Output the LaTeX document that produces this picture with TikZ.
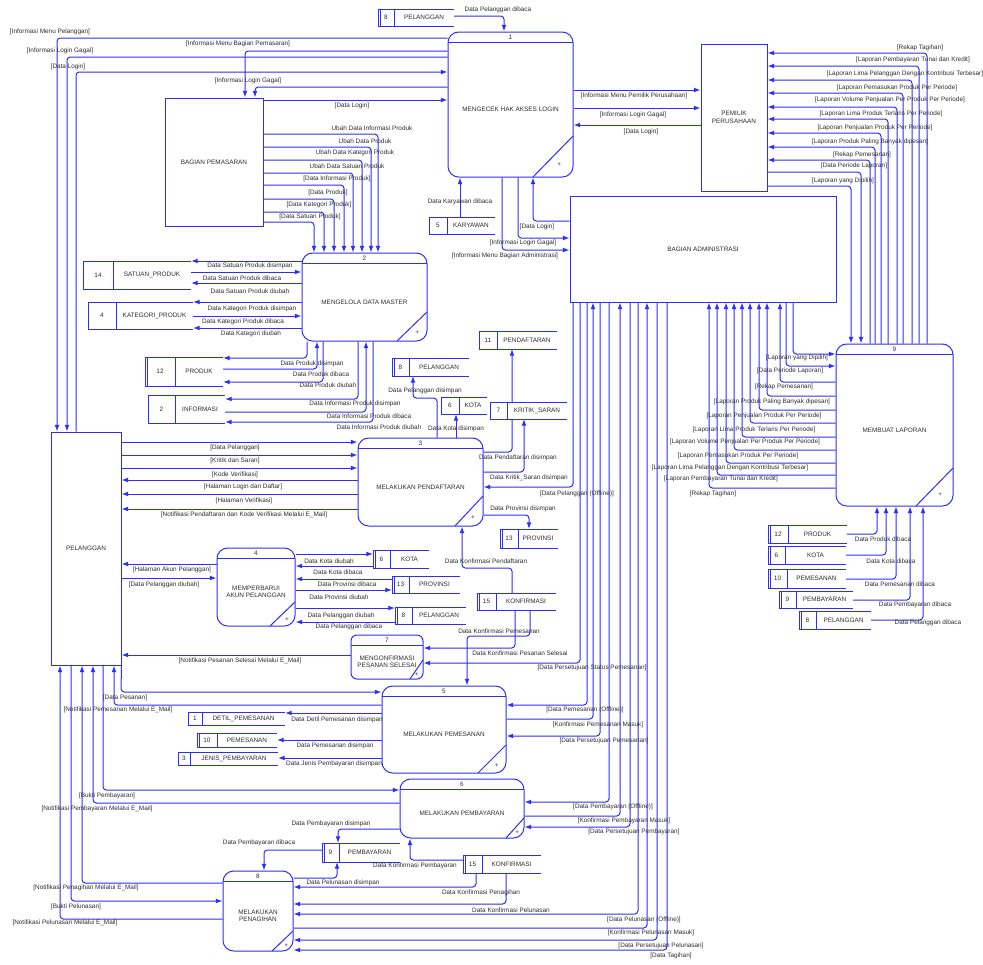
\documentclass[tikz,border=0pt]{standalone}
\usepackage{fontspec}
\setmainfont{Liberation Sans}
\usetikzlibrary{arrows.meta}
\definecolor{dfd}{RGB}{45,45,255}
\definecolor{txtc}{RGB}{45,45,45}
\pgfdeclarelayer{bg}
\pgfdeclarelayer{paper}
\pgfsetlayers{paper,bg,main}
\newcounter{labc}
\newcommand\lbfont{\fontsize{4.8pt}{5.6pt}\selectfont}
\tikzset{
  shapeline/.style={draw=dfd, line width=0.75pt},
  ent/.style={draw=dfd, line width=0.75pt, fill=white, inner sep=0pt, font=\lbfont, text=txtc, align=center},
  procbox/.style={draw=dfd, line width=0.75pt, fill=white, inner sep=0pt, rounded corners=\procrad},
  ptxt/.style={font=\lbfont, text=txtc, inner sep=0pt, align=center},
  stxt/.style={font=\lbfont, text=txtc, inner sep=0pt},
  storebox/.style={fill=white, inner sep=0pt, outer sep=0pt, draw=none},
  lbl/.style={font=\lbfont, text=txtc, inner sep=0pt},
  flow/.style={draw=dfd, line width=0.75pt, rounded corners=2.5pt, -{Latex[length=5pt,width=3.6pt]}},
}
\def\procrad{8pt}
% name, x1, y1, x2, y2, number, text, diag a, diag b
\newcommand\proc[9]{%
  \node[procbox, minimum width={(#4-#2)*0.75pt}, minimum height={(#5-#3)*0.75pt}] (#1) at ({(#2+#4)/2},{(#3+#5)/2}) {};
  \draw[shapeline] (#2,#3+10) -- (#4,#3+10);
  \node[ptxt] (#1-n) at ({(#2+#4)/2},#3+5) {#6};
  \node[ptxt] (#1-t) at ({(#2+#4)/2},{(#3+#5+10)/2}) {#7};
  \draw[shapeline] (#4,#5-#8) -- (#4-#9,#5);
  \node[ptxt] (#1-p) at ({#4-#8/3},{#5-#8/3+1.5}) {+};
}
% name, x1, y1, x2, y2, xdiv, number, text, double
\newcommand\store[9]{%
  \node[storebox, minimum width={(#4-#2)*0.75pt}, minimum height={(#5-#3)*0.75pt}] (#1) at ({(#2+#4)/2},{(#3+#5)/2}) {};
  \draw[shapeline] (#4,#3) -- (#2,#3) -- (#2,#5) -- (#4,#5);
  \draw[shapeline] (#6,#3) -- (#6,#5);
  \ifnum#9=1 \draw[shapeline] (#2+2.2,#3) -- (#2+2.2,#5);\fi
  \node[stxt] (#1-n) at ({(#2+#6)/2},{(#3+#5)/2}) {#7};
  \node[stxt] (#1-t) at ({(#6+#4)/2},{(#3+#5)/2}) {#8};
}
\newcommand\lab[3]{\stepcounter{labc}\node[lbl] (lab-\arabic{labc}) at (#1,#2) {#3};}
\begin{document}
\begin{tikzpicture}[x=0.75pt,y=-0.75pt]
\begin{pgfonlayer}{paper}
\fill[white] (0,0) rectangle (983,965);
\end{pgfonlayer}
\useasboundingbox (0,0) rectangle (983,965);
% ---------- external entities ----------
\node[ent, minimum width={70*0.75pt}, minimum height={233*0.75pt}] (pl) at (86,548.5) {PELANGGAN};
\node[ent, minimum width={98*0.75pt}, minimum height={128*0.75pt}] (pp) at (214,162) {BAGIAN PEMASARAN};
\node[ent, minimum width={66*0.75pt}, minimum height={147*0.75pt}] (pk) at (734,117.5) {PEMILIK\\PERUSAHAAN};
\node[ent, minimum width={266*0.75pt}, minimum height={106*0.75pt}] (ba) at (703,249) {BAGIAN ADMINISTRASI};
% ---------- processes ----------
\proc{p1}{448}{32}{573}{177}{1}{MENGECEK HAK AKSES LOGIN}{41}{40}
\proc{p2}{302}{253}{427}{341}{2}{MENGELOLA DATA MASTER}{29}{30}
\proc{p3}{358}{438}{483}{526}{3}{MELAKUKAN PENDAFTARAN}{30}{28}
\proc{p4}{217}{548}{295}{626}{4}{MEMPERBARUI\\AKUN PELANGGAN}{24}{25}
\proc{p5}{382}{686}{506}{773}{5}{MELAKUKAN PEMESANAN}{28}{28}
\proc{p6}{400}{779}{524}{838}{6}{MELAKUKAN PEMBAYARAN}{20}{18}
\proc{p8}{223}{871}{293}{951}{8}{MELAKUKAN\\PENAGIHAN}{20}{21}
\proc{p9}{836}{344}{953}{506}{9}{MEMBUAT LAPORAN}{38}{37}
\def\procrad{4.5pt}
\proc{p7}{351}{635}{423}{679}{7}{MENGONFIRMASI\\PESANAN SELESAI}{19}{13}
% ---------- data stores ----------
\store{s8a}{378}{9}{454}{26}{394}{8}{PELANGGAN}{1}
\store{s5}{429}{217}{495}{234}{447}{5}{KARYAWAN}{0}
\store{s14}{83}{261}{191}{289}{113}{14}{SATUAN\_PRODUK}{0}
\store{s4}{88}{302}{193}{329}{116}{4}{KATEGORI\_PRODUK}{0}
\store{s12a}{145}{357}{223}{386}{175}{12}{PRODUK}{1}
\store{s2}{148}{395}{225}{423}{175}{2}{INFORMASI}{0}
\store{s8b}{392}{358}{469}{376}{409}{8}{PELANGGAN}{1}
\store{s6a}{441}{397}{487}{414}{459}{6}{KOTA}{0}
\store{s11}{479}{331}{557}{349}{497}{11}{PENDAFTARAN}{0}
\store{s7}{490}{402}{567}{419}{507}{7}{KRITIK\_SARAN}{0}
\store{s13a}{500}{529}{558}{548}{518}{13}{PROVINSI}{1}
\store{s6b}{373}{550}{429}{568}{390}{6}{KOTA}{1}
\store{s13b}{392}{576}{460}{593}{409}{13}{PROVINSI}{1}
\store{s8c}{395}{607}{466}{624}{412}{8}{PELANGGAN}{1}
\store{s15a}{477}{593}{556}{610}{496}{15}{KONFIRMASI}{1}
\store{s1}{188}{712}{285}{725}{202}{1}{DETIL\_PEMESANAN}{0}
\store{s10a}{197}{733}{277}{747}{217}{10}{PEMESANAN}{1}
\store{s3}{178}{752}{278}{765}{190}{3}{JENIS\_PEMBAYARAN}{0}
\store{s9a}{322}{843}{400}{862}{339}{9}{PEMBAYARAN}{1}
\store{s15b}{463}{855}{541}{873}{482}{15}{KONFIRMASI}{1}
\store{s12b}{768}{525}{847}{543}{788}{12}{PRODUK}{1}
\store{s6c}{768}{546}{846}{564}{785}{6}{KOTA}{1}
\store{s10b}{768}{569}{846}{588}{787}{10}{PEMESANAN}{1}
\store{s9b}{779}{591}{853}{608}{796}{9}{PEMBAYARAN}{1}
\store{s8d}{799}{611}{871}{629}{816}{8}{PELANGGAN}{1}
% ---------- connectors ----------
\begin{pgfonlayer}{bg}
% process 1
\draw[flow] (s8a.east |- 0,16) -- (504,16) -- (p1.north -| 504,0);
\draw[flow] (p1.west |- 0,38) -- (57,38) -- (pl.north -| 57,0);
\draw[flow] (p1.west |- 0,51) -- (245,51) -- (pp.north -| 245,0);
\draw[flow] (p1.west |- 0,57) -- (67,57) -- (pl.north -| 67,0);
\draw[flow] (pl.north -| 76,0) -- (76,72) -- (p1.west |- 0,72);
\draw[flow] (p1.west |- 0,87) -- (255,87) -- (pp.north -| 255,0);
\draw[flow] (pp.east |- 0,100) -- (p1.west |- 0,100);
\draw[flow] (p1.east |- 0,90) -- (pk.west |- 0,90);
\draw[flow] (p1.east |- 0,108) -- (pk.west |- 0,108);
\draw[flow] (pk.west |- 0,125) -- (p1.east |- 0,125);
\draw[flow] (s5.north -| 460,0) -- (p1.south -| 460,0);
\draw[flow] (p1.south -| 518,0) -- (518,238) -- (ba.west |- 0,238);
\draw[flow] (p1.south -| 502,0) -- (502,250) -- (ba.west |- 0,250);
\draw[flow] (ba.west |- 0,221) -- (533,221) -- (p1.south -| 533,0);
% pemilik <-> process 9
\foreach \x/\y in {927/53,919/66,912/80,903/93,897/107,888/119,881/133,875/147,870/160}
  \draw[flow] (p9.north -| \x,0) -- (\x,\y) -- (pk.east |- 0,\y);
\foreach \x/\y in {861/172,851/186}
  \draw[flow] (pk.east |- 0,\y) -- (\x,\y) -- (p9.north -| \x,0);
% administrasi <-> process 9
\foreach \x/\y in {793/354,786/366}
  \draw[flow] (ba.south -| \x,0) -- (\x,\y) -- (p9.west |- 0,\y);
\foreach \x/\y in {780/382,767/396,759/410,750/423,742/437,734/450,726/463,717/475,709/488}
  \draw[flow] (p9.west |- 0,\y) -- (\x,\y) -- (ba.south -| \x,0);
% process 9 stores
\draw[flow] (s12b.east |- 0,534) -- (877,534) -- (p9.south -| 877,0);
\draw[flow] (s6c.east |- 0,555) -- (886,555) -- (p9.south -| 886,0);
\draw[flow] (s10b.east |- 0,579) -- (896,579) -- (p9.south -| 896,0);
\draw[flow] (s9b.east |- 0,600) -- (910,600) -- (p9.south -| 910,0);
\draw[flow] (s8d.east |- 0,620) -- (923,620) -- (p9.south -| 923,0);
% process 2
\foreach \x/\y in {378/134,371/147,362/160,353/173,344/185,334/199,324/212,314/222}
  \draw[flow] (pp.east |- 0,\y) -- (\x,\y) -- (p2.north -| \x,0);
\draw[flow] (p2.west |- 0,261) -- (s14.east |- 0,261);
\draw[flow] (s14.east |- 0,272) -- (p2.west |- 0,272);
\draw[flow] (p2.west |- 0,283) -- (s14.east |- 0,283);
\draw[flow] (p2.west |- 0,302) -- (s4.east |- 0,302);
\draw[flow] (s4.east |- 0,316) -- (p2.west |- 0,316);
\draw[flow] (p2.west |- 0,328) -- (s4.east |- 0,328);
\draw[flow] (p2.south -| 307,0) -- (307,358) -- (s12a.east |- 0,358);
\draw[flow] (s12a.east |- 0,369) -- (317,369) -- (p2.south -| 317,0);
\draw[flow] (p2.south -| 323,0) -- (323,382) -- (s12a.east |- 0,382);
\draw[flow] (p2.south -| 358,0) -- (358,399) -- (s2.east |- 0,399);
\draw[flow] (s2.east |- 0,412) -- (366,412) -- (p2.south -| 366,0);
\draw[flow] (p2.south -| 373,0) -- (373,422) -- (s2.east |- 0,422);
% process 3
\draw[flow] (pl.east |- 0,442) -- (p3.west |- 0,442);
\draw[flow] (pl.east |- 0,455) -- (p3.west |- 0,455);
\draw[flow] (pl.east |- 0,468) -- (p3.west |- 0,468);
\draw[flow] (p3.west |- 0,480) -- (pl.east |- 0,480);
\draw[flow] (p3.west |- 0,494) -- (pl.east |- 0,494);
\draw[flow] (p3.west |- 0,509) -- (pl.east |- 0,509);
\draw[flow] (p3.north -| 437,0) -- (437,398) -- (413,398) -- (s8b.south -| 413,0);
\draw[flow] (p3.north -| 456,0) -- (s6a.south -| 456,0);
\draw[flow] (p3.east |- 0,452) -- (512,452) -- (s11.south -| 512,0);
\draw[flow] (p3.east |- 0,472) -- (524,472) -- (s7.south -| 524,0);
\draw[flow] (p3.east |- 0,515) -- (529,515) -- (s13a.north -| 529,0);
\draw[flow] (ba.south -| 573,0) -- (573,487) -- (p3.east |- 0,487);
\draw[flow] (s15a.north -| 512,0) -- (512,568) -- (462,568) -- (p3.south -| 462,0);
% process 4
\draw[flow] (p4.west |- 0,564) -- (pl.east |- 0,564);
\draw[flow] (pl.east |- 0,578) -- (p4.west |- 0,578);
\draw[flow] (p4.east |- 0,554) -- (s6b.west |- 0,554);
\draw[flow] (s6b.west |- 0,566) -- (p4.east |- 0,566);
\draw[flow] (s13b.west |- 0,579) -- (p4.east |- 0,579);
\draw[flow] (p4.east |- 0,590) -- (s13b.west |- 0,590);
\draw[flow] (p4.east |- 0,608) -- (s8c.west |- 0,608);
\draw[flow] (s8c.west |- 0,622) -- (p4.east |- 0,622);
% process 7
\draw[flow] (s15a.south -| 515,0) -- (515,648) -- (p7.east |- 0,648);
\draw[flow] (ba.south -| 580,0) -- (580,663) -- (p7.east |- 0,663);
\draw[flow] (p7.west |- 0,655) -- (pl.east |- 0,655);
% process 5
\draw[flow] (s15a.south -| 530,0) -- (530,636) -- (467,636) -- (p5.north -| 467,0);
\draw[flow] (pl.south east) -- (121,692) -- (p5.west |- 0,692);
\draw[flow] (p5.west |- 0,705) -- (114,705) -- (pl.south -| 114,0);
\draw[flow] (p5.west |- 0,713) -- (s1.east |- 0,713);
\draw[flow] (p5.west |- 0,740) -- (s10a.east |- 0,740);
\draw[flow] (p5.west |- 0,758) -- (s3.east |- 0,758);
\draw[flow] (ba.south -| 587,0) -- (587,705) -- (p5.east |- 0,705);
\draw[flow] (p5.east |- 0,719) -- (593,719) -- (ba.south -| 593,0);
\draw[flow] (ba.south -| 600,0) -- (600,736) -- (p5.east |- 0,736);
% process 6
\draw[flow] (pl.south -| 103,0) -- (103,790) -- (p6.west |- 0,790);
\draw[flow] (p6.west |- 0,803) -- (93,803) -- (pl.south -| 93,0);
\draw[flow] (ba.south -| 609,0) -- (609,802) -- (p6.east |- 0,802);
\draw[flow] (p6.east |- 0,816) -- (620,816) -- (ba.south -| 620,0);
\draw[flow] (ba.south -| 630,0) -- (630,827) -- (p6.east |- 0,827);
\draw[flow] (p6.west |- 0,829) -- (338,829) -- (s9a.north -| 338,0);
\draw[flow] (s15b.west |- 0,860) -- (410,860) -- (p6.south -| 410,0);
% process 8
\draw[flow] (s9a.west |- 0,850) -- (264,850) -- (p8.north -| 264,0);
\draw[flow] (p8.east |- 0,878) -- (337,878) -- (s9a.south -| 337,0);
\draw[flow] (s15b.south -| 476,0) -- (476,887) -- (p8.east |- 0,887);
\draw[flow] (s15b.south -| 506,0) -- (506,904) -- (p8.east |- 0,904);
\draw[flow] (ba.south -| 638,0) -- (638,914) -- (p8.east |- 0,914);
\draw[flow] (p8.east |- 0,928) -- (647,928) -- (ba.south -| 647,0);
\draw[flow] (ba.south -| 657,0) -- (657,940) -- (p8.east |- 0,940);
\draw[flow] (ba.south -| 667,0) -- (667,950) -- (p8.east |- 0,950);
\draw[flow] (p8.west |- 0,883) -- (82,883) -- (pl.south -| 82,0);
\draw[flow] (pl.south -| 71,0) -- (71,901) -- (p8.west |- 0,901);
\draw[flow] (p8.west |- 0,919) -- (60,919) -- (pl.south -| 60,0);
\end{pgfonlayer}
% ---------- labels ----------
\lab{498}{10}{Data Pelanggan dibaca}
\lab{50}{32}{[Informasi Menu Pelanggan]}
\lab{238}{44}{[Informasi Menu Bagian Pemasaran]}
\lab{60}{51}{[Informasi Login Gagal]}
\lab{68}{67}{[Data Login]}
\lab{248}{81}{[Informasi Login Gagal]}
\lab{352}{106}{[Data Login]}
\lab{634}{96}{[Informasi Menu Pemilik Perusahaan]}
\lab{633}{115}{[Informasi Login Gagal]}
\lab{641}{132}{[Data Login]}
\lab{460}{202}{Data Karyawan dibaca}
\lab{537}{227}{[Data Login]}
\lab{523}{243}{[Informasi Login Gagal]}
\lab{505}{256}{[Informasi Menu Bagian Administrasi]}
% pemilik side
\lab{920}{48}{[Rekap Tagihan]}
\lab{913}{60}{[Laporan Pembayaran Tunai dan Kredit]}
\lab{905}{74}{[Laporan Lima Pelanggan Dengan Kontribusi Terbesar]}
\lab{897}{88}{[Laporan Pemasukan Produk Per Periode]}
\lab{890}{100}{[Laporan Volume Penjualan Per Produk Per Periode]}
\lab{881}{114}{[Laporan Lima Produk Terlaris Per Periode]}
\lab{875}{128}{[Laporan Penjualan Produk Per Periode]}
\lab{870}{142}{[Laporan Produk Paling Banyak dipesan]}
\lab{862}{155}{[Rekap Pemesanan]}
\lab{854}{166}{[Data Periode Laporan]}
\lab{843}{181}{[Laporan yang Dipilih]}
% administrasi side of process 9
\lab{797}{358}{[Laporan yang Dipilih]}
\lab{790}{371}{[Data Periode Laporan]}
\lab{784}{387}{[Rekap Pemesanan]}
\lab{772}{402}{[Laporan Produk Paling Banyak dipesan]}
\lab{764}{416}{[Laporan Penjualan Produk Per Periode]}
\lab{754}{430}{[Laporan Lima Produk Terlaris Per Periode]}
\lab{745}{442}{[Laporan Volume Penjualan Per Produk Per Periode]}
\lab{738}{456}{[Laporan Pemasukan Produk Per Periode]}
\lab{730}{468}{[Laporan Lima Pelanggan Dengan Kontribusi Terbesar]}
\lab{721}{479}{[Laporan Pembayaran Tunai dan Kredit]}
\lab{713}{494}{[Rekap Tagihan]}
% process 9 stores
\lab{883}{539}{Data Produk dibaca}
\lab{891}{561}{Data Kota dibaca}
\lab{900}{584}{Data Pemesanan dibaca}
\lab{915}{605}{Data Pembayaran dibaca}
\lab{928}{623}{Data Pelanggan dibaca}
% process 2
\lab{372}{128}{Ubah Data Informasi Produk}
\lab{365}{141}{Ubah Data Produk}
\lab{355}{153}{Ubah Data Kategori Produk}
\lab{347}{166}{Ubah Data Satuan Produk}
\lab{337}{179}{[Data Informasi Produk]}
\lab{328}{193}{[Data Produk]}
\lab{319}{205}{[Data Kategori Produk]}
\lab{310}{217}{[Data Satuan Produk]}
\lab{250}{266}{Data Satuan Produk disimpan}
\lab{242}{278}{Data Satuan Produk dibaca}
\lab{250}{291}{Data Satuan Produk diubah}
\lab{252}{309}{Data Kategori Produk disimpan}
\lab{243}{322}{Data Kategori Produk dibaca}
\lab{251}{334}{Data Kategori diubah}
\lab{312}{364}{Data Produk disimpan}
\lab{321}{374}{Data Produk dibaca}
\lab{328}{385}{Data Produk diubah}
\lab{355}{404}{Data Informasi Produk disimpan}
\lab{369}{416}{Data Informasi Produk dibaca}
\lab{379}{427}{Data Informasi Produk diubah}
% process 3
\lab{235}{448}{[Data Pelanggan]}
\lab{235}{461}{[Kritik dan Saran]}
\lab{235}{475}{[Kode Verifikasi]}
\lab{243}{487}{[Halaman Login dan Daftar]}
\lab{244}{501}{[Halaman Verifikasi]}
\lab{244}{515}{[Notifikasi Pendaftaran dan Kode Verifikasi Melalui E\_Mail]}
\lab{425}{391}{Data Pelanggan disimpan}
\lab{456}{429}{Data Kota disimpan}
\lab{518}{458}{Data Pendaftaran disimpan}
\lab{529}{478}{Data Kritik\_Saran disimpan}
\lab{577}{494}{[Data Pelanggan (Offline)]}
\lab{523}{509}{Data Provinsi disimpan}
\lab{486}{561}{Data Konfirmasi Pendaftaran}
% process 4
\lab{172}{570}{[Halaman Akun Pelanggan]}
\lab{164}{585}{[Data Pelanggan diubah]}
\lab{329}{561}{Data Kota diubah}
\lab{338}{572}{Data Kota dibaca}
\lab{347}{584}{Data Provinsi dibaca}
\lab{339}{597}{Data Provinsi diubah}
\lab{341}{616}{Data Pelanggan diubah}
\lab{349}{627}{Data Pelanggan dibaca}
% process 7
\lab{499}{631}{Data Konfirmasi Pemesanan}
\lab{520}{653}{Data Konfirmasi Pesanan Selesai}
\lab{592}{668}{[Data Persetujuan Status Pemesanan]}
\lab{240}{661}{[Notifikasi Pesanan Selesai Melalui E\_Mail]}
% process 5
\lab{125}{698}{[Data Pesanan]}
\lab{118}{710}{[Notifikasi Pemesanan Melalui E\_Mail]}
\lab{337}{720}{Data Detil Pemesanan disimpan}
\lab{335}{746}{Data Pemesanan disimpan}
\lab{334}{764}{Data Jenis Pembayaran disimpan}
\lab{585}{710}{[Data Pemesanan (Offline)]}
\lab{598}{725}{[Konfirmasi Pemesanan Masuk]}
\lab{604}{741}{[Data Persetujuan Pemesanan]}
% process 6
\lab{107}{796}{[Bukti Pembayaran]}
\lab{97}{809}{[Notifikasi Pembayaran Melalui E\_Mail]}
\lab{613}{807}{[Data Pembayaran (Offline)]}
\lab{624}{821}{[Konfirmasi Pembayaran Masuk]}
\lab{634}{832}{[Data Persetujuan Pembayaran]}
\lab{331}{824}{Data Pembayaran disimpan}
\lab{415}{866}{Data Konfirmasi Pembayaran}
% process 8
\lab{259}{843}{Data Pembayaran dibaca}
\lab{343}{883}{Data Pelunasan disimpan}
\lab{481}{893}{Data Konfirmasi Penagihan}
\lab{511}{910}{Data Konfirmasi Pelunasan}
\lab{86}{888}{[Notifikasi Penagihan Melalui E\_Mail]}
\lab{76}{907}{[Bukti Pelunasan]}
\lab{65}{923}{[Notifikasi Pelunasan Melalui E\_Mail]}
\lab{644}{920}{[Data Pelunasan (Offline)]}
\lab{651}{933}{[Konfirmasi Pelunasan Masuk]}
\lab{661}{946}{[Data Persetujuan Pelunasan]}
\lab{671}{956}{[Data Tagihan]}
\end{tikzpicture}
\end{document}
